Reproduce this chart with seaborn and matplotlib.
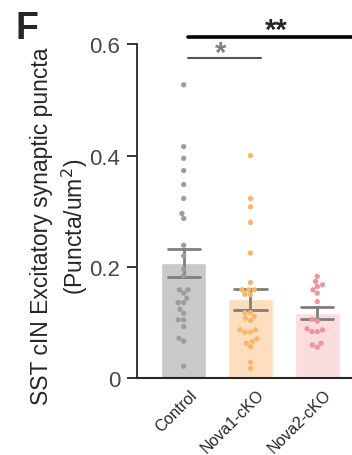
import matplotlib
matplotlib.use("Agg")
import matplotlib.pyplot as plt
import matplotlib.transforms as mtransforms
import seaborn as sns
import pandas as pd
import numpy as np

groups = ["Control", "Nova1-cKO", "Nova2-cKO"]
control = [0.527, 0.416, 0.395, 0.373, 0.348, 0.323, 0.296, 0.287, 0.239, 0.220,
           0.196, 0.184, 0.159, 0.159, 0.153, 0.144, 0.136, 0.136, 0.124, 0.117,
           0.105, 0.105, 0.093, 0.072, 0.067, 0.022]
nova1 = [0.400, 0.323, 0.308, 0.280, 0.225, 0.172, 0.159, 0.159, 0.159, 0.151,
         0.150, 0.118, 0.118, 0.111, 0.108, 0.104, 0.087, 0.087, 0.083, 0.083,
         0.071, 0.066, 0.063, 0.057, 0.029, 0.018]
nova2 = [0.183, 0.174, 0.168, 0.165, 0.159, 0.153, 0.138, 0.106, 0.103, 0.089,
         0.087, 0.084, 0.084, 0.063, 0.060, 0.056]
yticks = [0, 0.2, 0.4, 0.6]
ytick_labels = ["0", "0.2", "0.4", "0.6"]

bar_colors = ["#c9c8ca", "#fddfbf", "#fbdcdf"]
dot_colors = ["#9c9c9e", "#fbb46a", "#f0939c"]

df = pd.DataFrame({
    "group": ["Control"] * len(control) + ["Nova1-cKO"] * len(nova1) + ["Nova2-cKO"] * len(nova2),
    "value": control + nova1 + nova2,
})

sns.set_style("ticks")
plt.rcParams["font.family"] = ["Liberation Sans", "DejaVu Sans"]

fig = plt.figure(figsize=(3.52, 4.56), dpi=100)
ax = fig.add_axes([0.389, 0.168, 0.611, 0.733])

sns.barplot(data=df, x="group", y="value", order=groups, hue="group", hue_order=groups,
            palette=bar_colors, errorbar=None, width=0.67, legend=False, ax=ax,
            saturation=1)
sns.swarmplot(data=df, x="group", y="value", order=groups, hue="group", hue_order=groups,
              palette=dot_colors, size=3.8, legend=False, ax=ax)
sns.barplot(data=df, x="group", y="value", order=groups, errorbar="se", fill=False,
            linewidth=0, width=0.67, capsize=0.48,
            err_kws={"color": "#7f7f7f", "linewidth": 2}, ax=ax)

ax.set_xlim(-0.70, 2.52)
ax.set_ylim(0, 0.6)
ax.set_yticks(yticks)
ax.set_yticklabels(ytick_labels, fontsize=16, color="#484848")
ax.tick_params(axis="y", length=7, width=1.3, pad=5)
ax.tick_params(axis="x", length=0, pad=6)
ax.set_xticks(range(len(groups)))
ax.set_xticklabels(groups, rotation=45, ha="right", rotation_mode="anchor", fontsize=11.5)
offset = mtransforms.ScaledTranslation(6 / 100, 0, fig.dpi_scale_trans)
for lbl in ax.get_xticklabels():
    lbl.set_transform(lbl.get_transform() + offset)
ax.set_xlabel("")
ax.set_ylabel("")
for s in ["top", "right"]:
    ax.spines[s].set_visible(False)
ax.spines["left"].set_linewidth(1.3)
ax.spines["bottom"].set_linewidth(1.5)

fig.text(0.17, 0.503, "SST cIN Excitatory synaptic puncta\n(Puncta/um$^2$)", fontsize=16.5,
         rotation=90, ha="center", va="center", multialignment="center", linespacing=1.3)

# significance annotations
ax.plot([0.07, 2.52], [0.613, 0.613], color="black", lw=2.6, clip_on=False)
ax.text(1.38, 0.601, "**", ha="center", va="bottom", fontsize=21, fontweight="bold")
ax.plot([0.07, 1.16], [0.575, 0.575], color="#555555", lw=1.5, clip_on=False)
ax.text(0.55, 0.559, "*", ha="center", va="bottom", fontsize=21, fontweight="bold",
        color="#808080")

fig.text(0.045, 0.975, "F", fontsize=27, fontweight="bold", va="top", ha="left")

fig.savefig("out.png", dpi=100, facecolor="white")
